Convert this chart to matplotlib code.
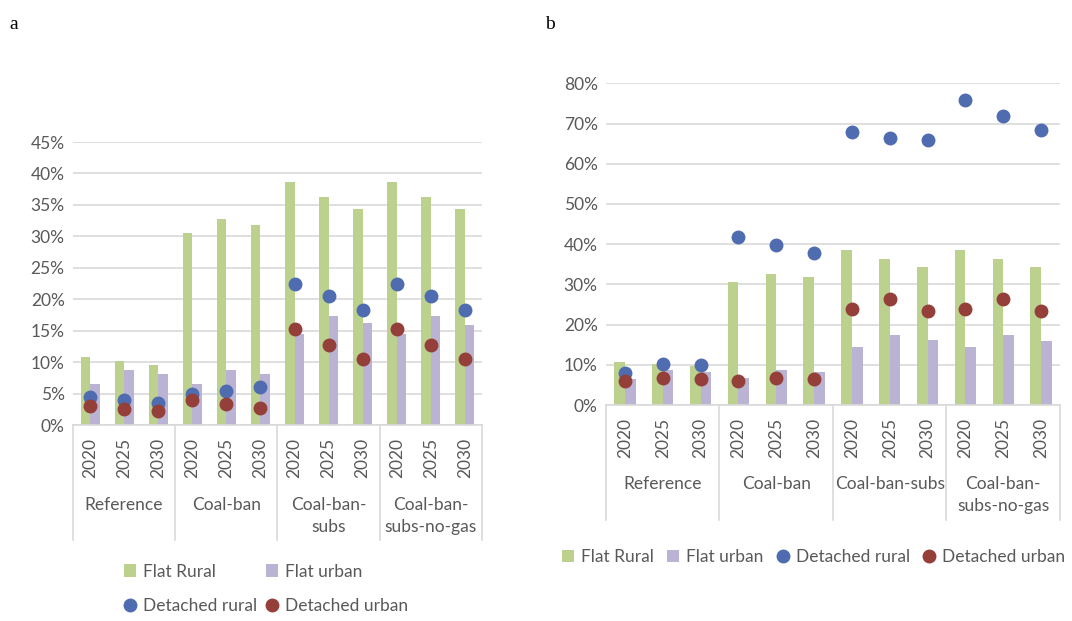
import matplotlib.pyplot as plt
import numpy as np
from matplotlib.transforms import blended_transform_factory

# scenario / year layout
scenarios_a = ["Reference", "Coal-ban", "Coal-ban-\nsubs", "Coal-ban-\nsubs-no-gas"]
scenarios_b = ["Reference", "Coal-ban", "Coal-ban-subs", "Coal-ban-\nsubs-no-gas"]
years = ["2020", "2025", "2030"]

# shares (%)
flat_rural = [10.8, 10.2, 9.6, 30.6, 32.7, 31.8, 38.6, 36.3, 34.3, 38.6, 36.3, 34.3]
flat_urban = [6.5, 8.8, 8.1, 6.6, 8.8, 8.1, 14.5, 17.3, 16.2, 14.5, 17.3, 15.9]

detached_rural_a = [4.4, 3.9, 3.5, 5.0, 5.4, 6.0, 22.5, 20.5, 18.3, 22.5, 20.5, 18.3]
detached_urban_a = [3.1, 2.6, 2.2, 3.9, 3.3, 2.7, 15.2, 12.8, 10.5, 15.2, 12.8, 10.5]

detached_rural_b = [7.9, 10.2, 10.0, 41.8, 39.7, 37.7, 67.9, 66.4, 65.8, 75.8, 71.9, 68.3]
detached_urban_b = [6.0, 6.8, 6.5, 6.0, 6.8, 6.5, 24.0, 26.4, 23.4, 24.0, 26.4, 23.4]

GREEN = "#BDD18F"
PURPLE = "#BBB3D3"
BLUE = "#4F6CB0"
RED = "#953F3A"
GRID = "#D9D9D9"
TEXT = "#595959"

plt.rcParams["font.family"] = ["Lato", "DejaVu Sans"]
plt.rcParams["font.size"] = 12.5


def draw_panel(ax, rural, urban, scenarios, yticks, group_top):
    x = np.arange(len(flat_rural))
    w = 0.28
    bars_r = ax.bar(x - w / 2, flat_rural, width=w, color=GREEN, label="Flat Rural", zorder=2)
    bars_u = ax.bar(x + w / 2, flat_urban, width=w, color=PURPLE, label="Flat urban", zorder=2)
    dots_r, = ax.plot(x, rural, "o", ms=9, color=BLUE, label="Detached rural", zorder=3, clip_on=False)
    dots_u, = ax.plot(x, urban, "o", ms=9, color=RED, label="Detached urban", zorder=3, clip_on=False)

    ax.set_xlim(-0.5, len(x) - 0.5)
    ax.set_ylim(0, yticks[-1])
    ax.set_yticks(yticks)
    ax.set_yticklabels([f"{t}%" for t in yticks])
    ax.yaxis.grid(True, color=GRID, lw=1.2, zorder=0)
    ax.set_axisbelow(True)
    for side in ["top", "right", "left"]:
        ax.spines[side].set_visible(False)
    ax.spines["bottom"].set_color(GRID)
    ax.spines["bottom"].set_linewidth(1.2)
    ax.tick_params(axis="y", length=0, labelcolor=TEXT, pad=6)
    ax.tick_params(axis="x", length=0, labelcolor=TEXT, pad=9)
    ax.set_xticks(x)
    ax.set_xticklabels(years * len(scenarios), rotation=90)

    # multi-level category box below the axis
    bottom = -115 / (ax.get_position().height * 621)
    for b in np.arange(len(scenarios) + 1) * 3 - 0.5:
        ax.axvline(b, ymin=bottom, ymax=0, color=GRID, lw=1.2, clip_on=False)
    trans = blended_transform_factory(ax.transData, ax.transAxes)
    for i, name in enumerate(scenarios):
        ax.text(i * 3 + 1, group_top, name, transform=trans, ha="center", va="top",
                color=TEXT, linespacing=1.45, multialignment="center")
    return [bars_r, bars_u, dots_r, dots_u]


fig = plt.figure(figsize=(10.72, 6.21), dpi=100)
ax_a = fig.add_axes([0.0681, 0.3156, 0.3815, 0.4557])
ax_b = fig.add_axes([0.5653, 0.3478, 0.4235, 0.5180])

handles_a = draw_panel(ax_a, detached_rural_a, detached_urban_a, scenarios_a,
                       list(range(0, 46, 5)), -0.255)
handles_b = draw_panel(ax_b, detached_rural_b, detached_urban_b, scenarios_b,
                       list(range(0, 81, 10)), -0.222)

# two columns filled column-wise: bars in row one, dots in row two
order_a = [handles_a[0], handles_a[2], handles_a[1], handles_a[3]]
leg_a = fig.legend(order_a, [h.get_label() for h in order_a], ncol=2, loc="center",
                   bbox_to_anchor=(0.248, 0.052), frameon=False, handlelength=0.7,
                   handleheight=0.7, handletextpad=0.4, columnspacing=0.5, labelspacing=1.05)
leg_b = fig.legend(handles_b, [h.get_label() for h in handles_b], ncol=4, loc="center",
                   bbox_to_anchor=(0.759, 0.103), frameon=False, handlelength=0.7,
                   handleheight=0.7, handletextpad=0.4, columnspacing=0.75)
for leg in (leg_a, leg_b):
    for t in leg.get_texts():
        t.set_color(TEXT)

fig.text(0.009, 0.975, "a", family="Liberation Serif", fontsize=14, va="top")
fig.text(0.508, 0.975, "b", family="Liberation Serif", fontsize=14, va="top")

fig.savefig("out.png", dpi=100)
